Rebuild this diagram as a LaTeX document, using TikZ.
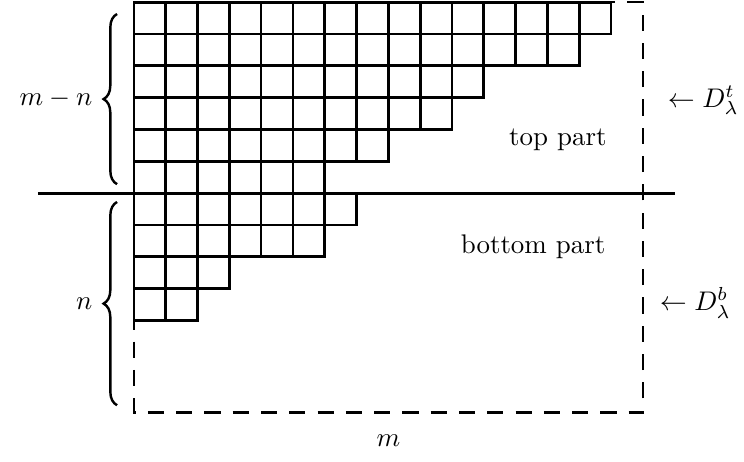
\documentclass[tikz,border=0pt]{standalone}
\usepackage{amsmath,amssymb}
\usepackage{tikz}
\usetikzlibrary{decorations.pathreplacing,positioning}

\begin{document}
\begin{tikzpicture}[x=0.415cm,y=0.415cm,
  cell/.style={draw,line width=1pt},
  frame/.style={line width=0.9pt,dash pattern=on 6pt off 4.5pt},
  cut/.style={line width=1.1pt},
  brc/.style={decorate,decoration={brace,amplitude=5pt},line width=0.9pt},
  lbl/.style={inner sep=2pt}]
 \useasboundingbox (-4.21,6.07) rectangle (19.18,-8.43);
 % the m x m frame the diagram sits in
 \draw[frame] (0,6) rectangle (16,-6.9);
 % rows of the diagram, top to bottom
 \foreach \len [count=\r] in {15,14,11,10,8,6,7,6,3,2}
   \foreach \c in {1,...,\len}
     \draw[cell] (\c-1,7-\r) rectangle ++(1,-1);
 \draw[cut] (-3.02,0) -- (17,0);
 % braces on the left
 \draw[brc] (-0.53,0.28) -- (-0.53,5.63) coordinate[midway,xshift=-7pt] (tip1);
 \draw[brc] (-0.53,-6.67) -- (-0.53,-0.28) coordinate[midway,xshift=-7pt] (tip2);
 \node[lbl,left=0pt of tip1] (mn) {$m-n$};
 \node[lbl,left=0pt of tip2] (nn) {$n$};
 \node[lbl] (top) at (13.33,1.67) {top part};
 \node[lbl] (bot) at (12.55,-1.7) {bottom part};
 \node[lbl,anchor=west] (dt) at (16.6,2.92) {$\leftarrow D^t_\lambda$};
 \node[lbl,anchor=west] (db) at (16.35,-3.46) {$\leftarrow D^b_\lambda$};
 \node[lbl] (mm) at (8,-7.77) {$m$};
\end{tikzpicture}
\end{document}
